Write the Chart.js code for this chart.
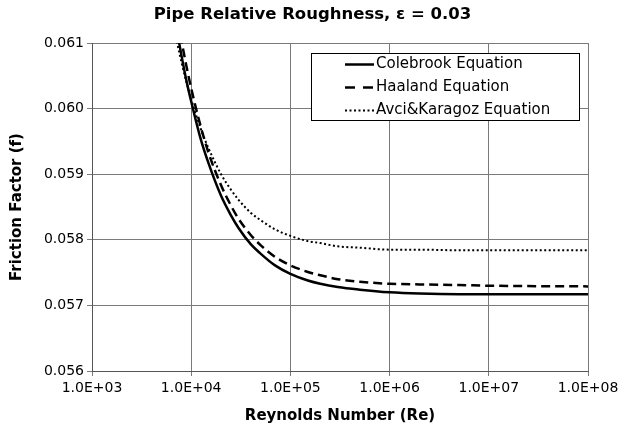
<!DOCTYPE html>
<html><head><meta charset="utf-8">
<script src="https://cdn.jsdelivr.net/npm/chart.js@4.4.1/dist/chart.umd.min.js"></script>
<style>html,body{margin:0;padding:0;background:#fff;} #wrap{width:625px;height:433px;position:relative;}</style>
</head><body><div id="wrap"><canvas id="c" width="625" height="433"></canvas></div>
<script>
const reynolds = [7000, 8000, 9000, 10000, 12500, 15000, 20000, 25000, 30000, 40000, 50000, 70000, 100000, 150000, 200000, 300000, 500000, 1e6, 2e6, 5e6, 1e7, 1e8];
const colebrook = [0.06128, 0.06080, 0.06041, 0.06011, 0.05953, 0.05916, 0.05867, 0.05838, 0.05818, 0.05793, 0.05779, 0.05761, 0.05748, 0.05738, 0.05733, 0.05728, 0.05724, 0.05720, 0.05718, 0.05717, 0.05717, 0.05717];
const haaland = [0.06155, 0.06103, 0.06063, 0.06031, 0.05972, 0.05932, 0.05883, 0.05853, 0.05832, 0.05807, 0.05792, 0.05774, 0.05761, 0.05751, 0.05746, 0.05740, 0.05736, 0.05733, 0.05732, 0.05731, 0.05730, 0.05729];
const avciKaragoz = [0.06109, 0.06070, 0.06039, 0.06014, 0.05969, 0.05939, 0.05900, 0.05877, 0.05861, 0.05841, 0.05830, 0.05816, 0.05806, 0.05798, 0.05795, 0.05790, 0.05788, 0.05785, 0.05785, 0.05784, 0.05784, 0.05784];
const seriesNames = ['Colebrook Equation', 'Haaland Equation', 'Avci&Karagoz Equation'];
const xTickValues = [1e3, 1e4, 1e5, 1e6, 1e7, 1e8];
const xTickLabels = ['1.0E+03', '1.0E+04', '1.0E+05', '1.0E+06', '1.0E+07', '1.0E+08'];
const yTickValues = [0.056, 0.057, 0.058, 0.059, 0.060, 0.061];
const yTickLabels = ['0.056', '0.057', '0.058', '0.059', '0.060', '0.061'];
const chartTitle = 'Pipe Relative Roughness, \u03b5 = 0.03';
const xTitle = 'Reynolds Number (Re)';
const yTitle = 'Friction Factor (f)';

const FONT = '"DejaVu Sans", Verdana, sans-serif';
const toPts = ys => reynolds.map((r, i) => ({x: r, y: ys[i]}));

const pageTitle = {
  id: 'pageTitle',
  afterDraw(chart) {
    const ctx = chart.ctx;
    ctx.save();
    ctx.fillStyle = '#000';
    ctx.font = 'bold 16.5px ' + FONT;
    ctx.textAlign = 'center';
    ctx.textBaseline = 'middle';
    ctx.fillText(chartTitle, chart.width / 2, 15);
    ctx.restore();
  }
};

const boxLegend = {
  id: 'boxLegend',
  afterDatasetsDraw(chart) {
    const ctx = chart.ctx, a = chart.chartArea;
    const x0 = a.right - 277, y0 = a.top + 10, w = 268, h = 67;
    ctx.save();
    ctx.fillStyle = '#fff';
    ctx.fillRect(x0, y0, w, h);
    ctx.strokeStyle = '#000';
    ctx.lineWidth = 1;
    ctx.strokeRect(x0 + 0.5, y0 + 0.5, w, h);
    chart.data.datasets.forEach((ds, i) => {
      const y = y0 + 11.5 + i * 23;
      ctx.beginPath();
      ctx.setLineDash(ds.legendDash || []);
      ctx.strokeStyle = ds.borderColor;
      ctx.lineWidth = ds.borderWidth;
      ctx.moveTo(x0 + 34, y);
      ctx.lineTo(x0 + 63, y);
      ctx.stroke();
      ctx.setLineDash([]);
      ctx.fillStyle = '#000';
      ctx.font = '15px ' + FONT;
      ctx.textBaseline = 'middle';
      ctx.textAlign = 'left';
      ctx.fillText(ds.label, x0 + 65, y);
    });
    ctx.restore();
  }
};

new Chart(document.getElementById('c'), {
  type: 'line',
  data: {
    datasets: [
      {label: seriesNames[0], data: toPts(colebrook), borderColor: '#000', borderWidth: 2.5, pointRadius: 0, cubicInterpolationMode: 'monotone', clip: 0, fill: false},
      {label: seriesNames[1], data: toPts(haaland), borderColor: '#000', borderWidth: 2.5, borderDash: [9, 5], legendDash: [10, 8], pointRadius: 0, cubicInterpolationMode: 'monotone', clip: 0, fill: false},
      {label: seriesNames[2], data: toPts(avciKaragoz), borderColor: '#000', borderWidth: 2, borderDash: [2, 2.5], legendDash: [2, 2.5], pointRadius: 0, cubicInterpolationMode: 'monotone', clip: 0, fill: false}
    ]
  },
  options: {
    responsive: false,
    devicePixelRatio: 1,
    animation: false,
    layout: {padding: {left: 0, right: 37, top: 43, bottom: 0}},
    plugins: {
      legend: {display: false},
      tooltip: {enabled: false},
      title: {display: false}
    },
    scales: {
      x: {
        type: 'logarithmic', min: 1e3, max: 1e8,
        afterBuildTicks: s => { s.ticks = xTickValues.map(v => ({value: v})); },
        afterFit: s => { s.height = 62; },
        ticks: {color: '#000', font: {family: FONT, size: 14}, padding: 4, maxRotation: 0, autoSkip: false,
          callback: (v) => { const i = xTickValues.indexOf(v); return i >= 0 ? xTickLabels[i] : ''; }},
        grid: {color: '#7a7a7a', lineWidth: 1, tickLength: 5, drawTicks: true},
        border: {color: '#555', width: 1},
        title: {display: true, text: xTitle, color: '#000', font: {family: FONT, size: 15, weight: 'bold', lineHeight: 1.2}, padding: {top: 0, bottom: 8}}
      },
      y: {
        type: 'linear', min: 0.056, max: 0.061,
        afterBuildTicks: s => { s.ticks = yTickValues.map(v => ({value: v})); },
        afterFit: s => { s.width = 92; },
        ticks: {color: '#000', font: {family: FONT, size: 14}, padding: 3,
          callback: (v) => { const i = yTickValues.findIndex(t => Math.abs(t - v) < 1e-9); return i >= 0 ? yTickLabels[i] : ''; }},
        grid: {color: '#7a7a7a', lineWidth: 1, tickLength: 5, drawTicks: true},
        border: {color: '#555', width: 1},
        title: {display: true, text: yTitle, color: '#000', font: {family: FONT, size: 15, weight: 'bold', lineHeight: 1.2}, padding: {top: 8, bottom: 0}}
      }
    }
  },
  plugins: [boxLegend, pageTitle]
});
</script>
</body></html>
